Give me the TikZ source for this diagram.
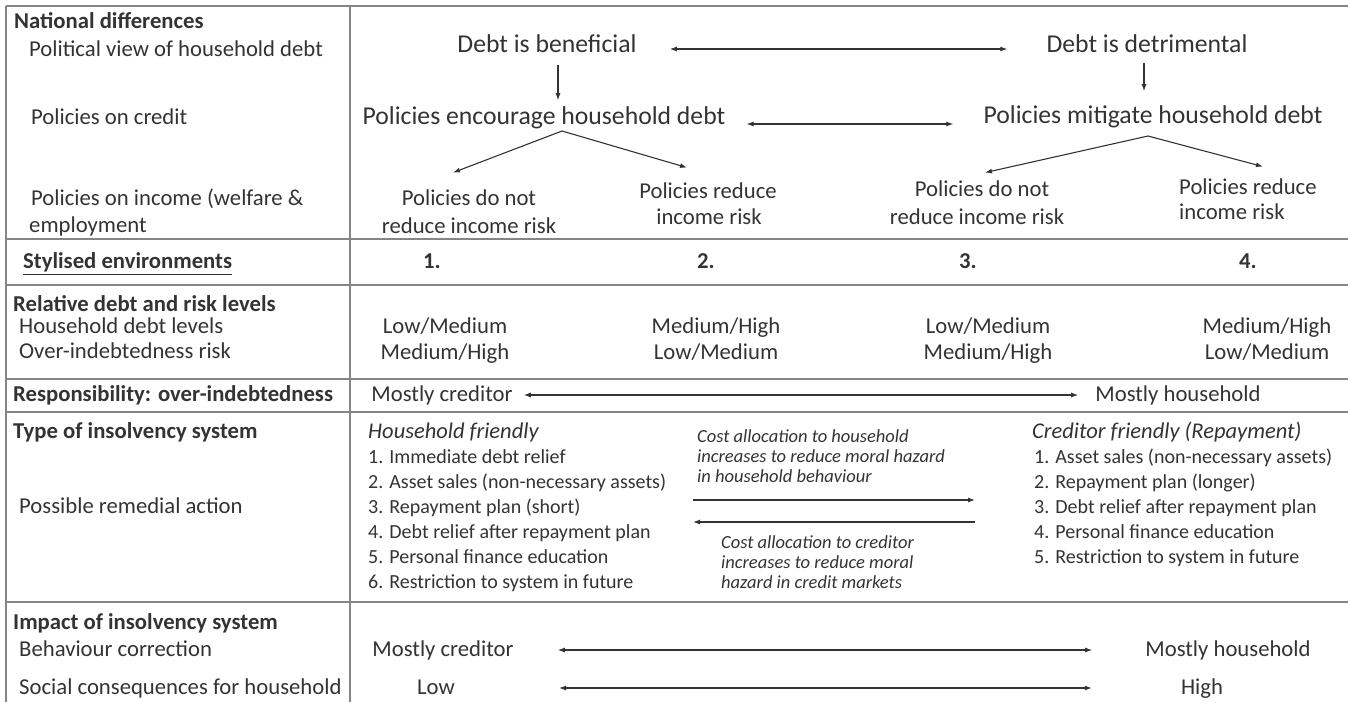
\documentclass[tikz,border=0pt]{standalone}
\usepackage{fontspec}
\setmainfont{Carlito}
\usetikzlibrary{arrows.meta}
\colorlet{ink}{black!80}
\colorlet{rulegray}{black!48}
\newcommand\lowmed{Low/Medium}
\newcommand\medhigh{Medium/High}
\begin{document}
\begin{tikzpicture}[x=1pt,y=-1pt,line cap=butt,line join=miter,>={Latex[length=7pt,width=5pt]}]
		\tikzset{every node/.style={inner sep=0pt,text=ink},
			lbl/.style={font=\fontsize{22.7}{26}\selectfont,text height=17pt,text depth=3.4pt},
			hd/.style={font=\fontsize{22.7}{26}\selectfont\bfseries,text height=17pt,text depth=3.4pt},
			hdi/.style={font=\fontsize{22.5}{26}\selectfont\itshape,text height=17pt,text depth=3.4pt},
			big/.style={font=\fontsize{25.7}{30}\selectfont,text height=19.3pt,text depth=3.9pt},
			lst/.style={font=\fontsize{20}{24}\selectfont,text height=15pt,text depth=3pt},
			note/.style={font=\fontsize{18.5}{20}\selectfont\itshape,text height=13.9pt,text depth=2.8pt},
			arr/.style={->,draw=ink,line width=1.1pt},
			dbl/.style={<->,draw=ink,line width=1.1pt},
			tabline/.style={draw=rulegray,line width=1.6pt}}
		\useasboundingbox (0,0) rectangle (1348,702);
		%--------- Table rules
		\draw[tabline] (6,6)--(1348,6);
		\foreach \y in {239,285,379,412,602} \draw[tabline] (6,\y)--(1348,\y);
		\draw[tabline] (6,6)--(6,702);
		\draw[tabline] (350,6)--(350,702);
		%--------- National differences
		\node[hd,anchor=west] (natdiff) at (14,22) {National differences};
		\node[lbl,anchor=west] (polview) at (29,50) {Political view of household debt};
		\node[lbl,anchor=west] (polcred) at (31,118) {Policies on credit};
		\node[lbl,anchor=west] (polinc) at (31,199) {Policies on income (welfare \&};
		\node[lbl,anchor=west] (polemp) at (29,226) {employment};
		\node[big] (ben) at (547,45) {Debt is beneficial};
		\node[big] (det) at (1147,45) {Debt is detrimental};
		\node[big] (enc) at (544,117) {Policies encourage household debt};
		\node[big] (mit) at (1153,116) {Policies mitigate household debt};
		\node[lbl] (pdn1a) at (469,199) {Policies do not};
		\node[lbl] (pdn1b) at (469,227) {reduce income risk};
		\node[lbl] (pr1a) at (708,192) {Policies reduce};
		\node[lbl] (pr1b) at (709,218) {income risk};
		\node[lbl] (pdn2a) at (982,190) {Policies do not};
		\node[lbl] (pdn2b) at (977,218) {reduce income risk};
		\node[lbl,anchor=west] (pr2a) at (1179,188) {Policies reduce};
		\node[lbl,anchor=west] (pr2b) at (1179,213) {income risk};
		\draw[dbl,shorten <=33pt,shorten >=39pt] ([yshift=-4pt]ben.east)--([yshift=-4pt]det.west);
		\draw[dbl,shorten <=21pt,shorten >=30pt] ([yshift=-7pt]enc.east)--([yshift=-8pt]mit.west);
		\draw[arr,shorten <=8pt,shorten >=5pt] ([xshift=11pt]ben.south)--([xshift=14pt]enc.north);
		\draw[arr,shorten <=6pt,shorten >=13pt] ([xshift=-3pt]det.south)--([xshift=-9pt]mit.north);
		\coordinate (encfork) at ([shift={(18,14)}]enc.center);
		\coordinate (mitfork) at ([shift={(-5,20)}]mit.center);
		\draw[arr] (encfork)--([shift={(-16,-16)}]pdn1a.north);
		\draw[arr] (encfork)--([shift={(-21,-14)}]pr1a.north);
		\draw[arr] (mitfork)--([shift={(3,-7)}]pdn2a.north);
		\draw[arr] (mitfork)--([shift={(15,-11)}]pr2a.north);
		%--------- Stylised environments
		\node[hd,anchor=west] (envhd) at (23,262) {\underline{Stylised environments}};
		\foreach \n/\x in {1/432,2/706,3/968,4/1248}
			\node[hd] (env\n) at (\x,262) {\n.};
		%--------- Debt and risk levels
		\node[hd,anchor=west] (relhd) at (13,305) {Relative debt and risk levels};
		\node[lbl,anchor=west] (hdl) at (19,327) {Household debt levels};
		\node[lbl,anchor=west] (oir) at (19,352) {Over-indebtedness risk};
		\foreach \n/\x/\a/\b in {1/445/\lowmed/\medhigh,2/716/\medhigh/\lowmed,3/988/\lowmed/\medhigh,4/1267/\medhigh/\lowmed}{
			\node[lbl] (dl\n) at (\x,327) {\a};
			\node[lbl] (or\n) at (\x,353) {\b};
		}
		%--------- Responsibility
		\node[hd,anchor=west] (resphd) at (13,395) {Responsibility: over-indebtedness};
		\node[lbl] (rcred) at (442,395) {Mostly creditor};
		\node[lbl] (rhh) at (1178,395) {Mostly household};
		\draw[dbl,shorten <=11pt,shorten >=17pt] (rcred.east)--(rhh.west);
		%--------- Insolvency system
		\node[hd,anchor=west] (typehd) at (13,432) {Type of insolvency system};
		\node[lbl,anchor=west] (remact) at (19,507) {Possible remedial action};
		\node[hdi,anchor=west] (hhf) at (368,432) {Household friendly};
		\foreach \t [count=\i] in {Immediate debt relief,Asset sales (non-necessary assets),Repayment plan (short),Debt relief after repayment plan,Personal finance education,Restriction to system in future}
			\node[lst,anchor=west] (hf\i) at (368,{432+25*\i}) {\i. \t};
		\node[hdi,anchor=west] (crf) at (1032,432) {Creditor friendly (Repayment)};
		\foreach \t [count=\i] in {Asset sales (non-necessary assets),Repayment plan (longer),Debt relief after repayment plan,Personal finance education,Restriction to system in future}
			\node[lst,anchor=west] (cf\i) at (1034,{432+25*\i}) {\i. \t};
		\node[note,anchor=west] (nu1) at (697,437) {Cost allocation to household};
		\node[note,anchor=west] (nu2) at (697,457) {increases to reduce moral hazard};
		\node[note,anchor=west] (nu3) at (697,477) {in household behaviour};
		\node[note,anchor=west] (nl1) at (721,543) {Cost allocation to creditor};
		\node[note,anchor=west] (nl2) at (721,563) {increases to reduce moral};
		\node[note,anchor=west] (nl3) at (721,583) {hazard in credit markets};
		\coordinate (tohh-a) at (693,500);
		\coordinate (tohh-b) at (975,500);
		\coordinate (tocr-a) at (975,522);
		\coordinate (tocr-b) at (693,522);
		\draw[arr] (tohh-a)--(tohh-b);
		\draw[arr] (tocr-a)--(tocr-b);
		%--------- Impact
		\node[hd,anchor=west] (imphd) at (13,623) {Impact of insolvency system};
		\node[lbl,anchor=west] (behcor) at (19,650) {Behaviour correction};
		\node[lbl,anchor=west] (soccon) at (19,688) {Social consequences for household};
		\node[lbl] (bcred) at (443,650) {Mostly creditor};
		\node[lbl] (bhh) at (1228,650) {Mostly household};
		\node[lbl] (low) at (436,688) {Low};
		\node[lbl] (high) at (1202,688) {High};
		\draw[dbl,shorten <=44pt,shorten >=53pt] (bcred.east)--(bhh.west);
		\draw[dbl,shorten <=104pt,shorten >=89pt] (low.east)--(high.west);
	\end{tikzpicture}
\end{document}
